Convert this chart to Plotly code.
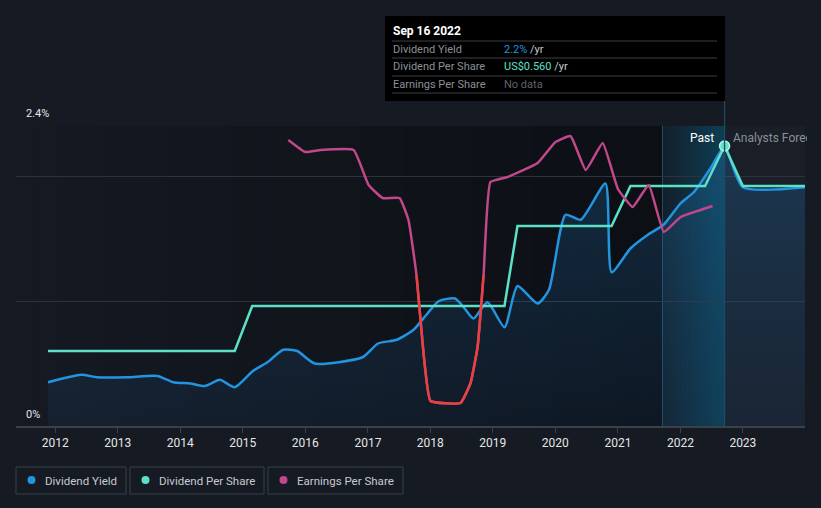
import plotly.graph_objects as go

# ---------------- data ----------------
yield_dates = ["2011-11-20", "2012-06-01", "2012-09-01", "2013-02-25", "2013-08-20", "2013-11-20",
               "2014-03-01", "2014-05-25", "2014-08-20", "2014-11-15", "2015-03-01", "2015-05-25",
               "2015-08-25", "2015-11-15", "2016-02-25", "2016-12-01", "2017-03-01", "2017-06-20",
               "2017-09-25", "2017-12-15", "2018-02-20", "2018-05-25", "2018-07-15", "2018-09-10",
               "2018-12-01", "2019-03-10", "2019-05-25", "2019-09-20", "2019-11-25", "2020-03-01",
               "2020-05-28", "2020-10-20", "2020-11-25", "2021-03-15", "2021-06-25", "2021-09-25",
               "2022-01-01", "2022-03-20", "2022-06-25", "2022-09-16", "2023-01-01", "2024-01-01"]
yield_pct = [0.35, 0.41, 0.39, 0.39, 0.40, 0.35,
             0.34, 0.32, 0.37, 0.31, 0.44, 0.51,
             0.61, 0.60, 0.50, 0.55, 0.66, 0.69,
             0.77, 0.90, 1.00, 1.02, 0.95, 0.86,
             0.99, 0.79, 1.12, 0.98, 1.09, 1.69,
             1.65, 1.94, 1.23, 1.42, 1.53, 1.61,
             1.78, 1.87, 2.06, 2.23, 1.91, 1.91]

dps_dates = ["2011-11-20", "2014-11-15", "2015-02-25", "2019-03-10", "2019-05-25", "2020-11-25",
             "2021-03-15", "2022-05-25", "2022-09-16", "2023-01-01", "2024-01-01"]
dps_usd = [0.15, 0.15, 0.24, 0.24, 0.40, 0.40, 0.48, 0.48, 0.56, 0.48, 0.48]

eps_dates = ["2015-09-24", "2016-01-01", "2016-03-30", "2016-10-10", "2017-01-05", "2017-03-28",
             "2017-07-05", "2017-08-26", "2017-10-12", "2017-11-22", "2018-01-02", "2018-06-26",
             "2018-08-24", "2018-10-04", "2018-11-08", "2018-12-18", "2019-03-28", "2019-09-20",
             "2020-01-02", "2020-03-30", "2020-06-27", "2020-10-04", "2021-01-01", "2021-03-28",
             "2021-06-30", "2021-09-26", "2022-01-03", "2022-07-08"]
eps_usd = [1.35, 1.23, 1.25, 1.25, 0.90, 0.77,
           0.77, 0.55, 0.00, -0.78, -1.26, -1.28,
           -1.08, -0.72, 0.00, 0.93, 0.98, 1.12,
           1.33, 1.39, 1.05, 1.32, 0.86, 0.68,
           0.90, 0.43, 0.58, 0.69]

y_ticks = [0, 1, 2, 2.4]
year_ticks = ["2012-01-01"]

# ---------------- colours ----------------
BG = "#151a23"
BLUE = "#2394df"
TEAL = "#5ce0c8"
PINK = "#c2478b"
RED = "#e8413e"
GRID = "#2d323b"
FONT = "Roboto"

fig = go.Figure()

fig.add_trace(go.Scatter(
    x=yield_dates, y=yield_pct, mode="lines", name="Dividend Yield",
    line=dict(color=BLUE, width=2.5, shape="spline", smoothing=0.6),
    fill="tozeroy",
    fillgradient=dict(type="vertical",
                      colorscale=[[0, "rgba(30,90,150,0.12)"], [1, "rgba(35,140,215,0.24)"]]),
    yaxis="y", hoverinfo="skip"))

fig.add_trace(go.Scatter(
    x=dps_dates, y=dps_usd, mode="lines", name="Dividend Per Share",
    line=dict(color=TEAL, width=2.5, shape="linear"),
    yaxis="y2", hoverinfo="skip"))

fig.add_trace(go.Scatter(
    x=eps_dates, y=eps_usd, mode="lines", name="Earnings Per Share",
    line=dict(color=PINK, width=2.5, shape="spline", smoothing=0.35),
    yaxis="y3", hoverinfo="skip"))

fig.add_trace(go.Scatter(
    x=eps_dates, y=eps_usd, mode="lines", name="Earnings Per Share (negative)",
    line=dict(color=RED, width=2.5, shape="spline", smoothing=0.35),
    yaxis="y4", hoverinfo="skip"))

fig.add_trace(go.Scatter(
    x=[dps_dates[8]], y=[dps_usd[8]], mode="markers",
    marker=dict(color=TEAL, size=10, line=dict(color="#b9f3e9", width=1.5)),
    yaxis="y2", hoverinfo="skip"))

shapes = []
# past region: horizontal darkening gradient
n = 30
x0p, x1p = 0.0, (662 - 16) / 789
for i in range(n):
    a = 0.42 * (i + 0.5) / n
    shapes.append(dict(type="rect", xref="paper", yref="paper",
                       x0=x0p + (x1p - x0p) * i / n, x1=x0p + (x1p - x0p) * (i + 1) / n,
                       y0=0, y1=1, fillcolor=f"rgba(0,0,0,{a:.3f})", line_width=0, layer="below"))
# last-year band gradient
m = 24
bx0, bx1 = (662 - 16) / 789, (725 - 16) / 789
for i in range(m):
    a = 0.05 + 0.28 * (i + 0.5) / m
    shapes.append(dict(type="rect", xref="paper", yref="paper",
                       x0=bx0 + (bx1 - bx0) * i / m, x1=bx0 + (bx1 - bx0) * (i + 1) / m,
                       y0=0, y1=1, fillcolor=f"rgba(0,140,190,{a:.3f})", line_width=0, layer="below"))
shapes.append(dict(type="rect", xref="paper", yref="paper", x0=bx0, x1=bx0 + 0.0013, y0=0, y1=1,
                   fillcolor="rgba(30,90,110,0.8)", line_width=0, layer="below"))
# forecast region
shapes.append(dict(type="rect", xref="paper", yref="paper", x0=bx1, x1=1, y0=0, y1=1,
                   fillcolor="rgba(255,255,255,0.018)", line_width=0, layer="below"))
# hover line
shapes.append(dict(type="line", xref="x", yref="paper", x0="2022-09-16", x1="2022-09-16",
                   y0=0, y1=(426 - 101) / 300, line=dict(color="#1d4d5e", width=1.2)))


def px_x(px):
    return (px - 16) / 789


def px_y(py):
    return (426 - py) / 300


# tooltip box
shapes.append(dict(type="rect", xref="paper", yref="paper", x0=px_x(385), x1=px_x(725),
                   y0=px_y(101), y1=px_y(16), fillcolor="#000000", line_width=0))
for sy in [41, 58, 76, 93]:
    shapes.append(dict(type="line", xref="paper", yref="paper", x0=px_x(392), x1=px_x(717),
                       y0=px_y(sy), y1=px_y(sy), line=dict(color="#3a3e46", width=1)))

# legend boxes
legend_items = [("Dividend Yield", BLUE, 16, 126), ("Dividend Per Share", TEAL, 130, 264),
                ("Earnings Per Share", PINK, 268, 403)]
annotations = []
for label, col, lx0, lx1 in legend_items:
    shapes.append(dict(type="rect", xref="paper", yref="paper", x0=px_x(lx0), x1=px_x(lx1),
                       y0=px_y(494), y1=px_y(467), fillcolor=BG,
                       line=dict(color="#3b4049", width=1)))
    shapes.append(dict(type="circle", xref="paper", yref="paper", x0=px_x(lx0 + 11.5), x1=px_x(lx0 + 19.5),
                       y0=px_y(484), y1=px_y(476), fillcolor=col, line_width=0))
    annotations.append(dict(xref="paper", yref="paper", x=px_x(lx0 + 27), y=px_y(480.5),
                            text=label, showarrow=False, xanchor="left", yanchor="middle",
                            font=dict(family=FONT, size=11.5, color="#c8cbd0")))

# y labels
annotations.append(dict(xref="paper", yref="paper", x=px_x(24), y=px_y(114), text="2.4%",
                        showarrow=False, xanchor="left", yanchor="middle",
                        font=dict(family=FONT, size=11, color="#e6e6e6")))
annotations.append(dict(xref="paper", yref="paper", x=px_x(24), y=px_y(414), text="0%",
                        showarrow=False, xanchor="left", yanchor="middle",
                        font=dict(family=FONT, size=11, color="#e6e6e6")))
# past / forecast
annotations.append(dict(xref="paper", yref="paper", x=px_x(716), y=px_y(138), text="Past",
                        showarrow=False, xanchor="right", yanchor="middle",
                        font=dict(family=FONT, size=12, color="#ffffff")))
annotations.append(dict(xref="paper", yref="paper", x=px_x(731), y=px_y(138), text="Analysts Forecasts",
                        showarrow=False, xanchor="left", yanchor="middle", width=74, align="left",
                        font=dict(family=FONT, size=12, color="#8b9098")))
# tooltip text
annotations.append(dict(xref="paper", yref="paper", x=px_x(391), y=px_y(31), text="<b>Sep 16 2022</b>",
                        showarrow=False, xanchor="left", yanchor="middle",
                        font=dict(family=FONT, size=12, color="#ffffff")))
rows = [("Dividend Yield", f"<span style='color:{BLUE}'>2.2%</span> /yr", 49),
        ("Dividend Per Share", f"<span style='color:{TEAL}'>US$0.560</span> /yr", 66),
        ("Earnings Per Share", "<span style='color:#5f646c'>No data</span>", 84)]
for lab, val, ry in rows:
    annotations.append(dict(xref="paper", yref="paper", x=px_x(391), y=px_y(ry), text=lab,
                            showarrow=False, xanchor="left", yanchor="middle",
                            font=dict(family=FONT, size=11, color="#8b9098")))
    annotations.append(dict(xref="paper", yref="paper", x=px_x(502), y=px_y(ry), text=val,
                            showarrow=False, xanchor="left", yanchor="middle",
                            font=dict(family=FONT, size=11, color="#c8cbd0")))

fig.update_layout(
    width=821, height=508,
    margin=dict(l=16, r=16, t=126, b=82),
    paper_bgcolor=BG, plot_bgcolor="rgba(0,0,0,0)",
    showlegend=False,
    font=dict(family=FONT),
    xaxis=dict(type="date", range=["2011-05-17", "2023-12-30"],
               tick0=year_ticks[0], dtick="M12", tickformat="%Y",
               showgrid=False, zeroline=False,
               showline=True, linecolor="#3b4049", linewidth=1.5,
               ticks="outside", ticklen=5, tickcolor="#3b4049",
               tickfont=dict(family=FONT, size=12, color="#e6e6e6")),
    yaxis=dict(range=[0, 2.4], tickvals=y_ticks, showticklabels=False,
               showgrid=True, gridcolor=GRID, gridwidth=1, zeroline=False, fixedrange=True),
    yaxis2=dict(range=[0, 0.6], overlaying="y", visible=False, showgrid=False),
    yaxis3=dict(range=[-1.51, 1.49], overlaying="y", visible=False, showgrid=False),
    yaxis4=dict(range=[-1.51, 0], domain=[0, 151 / 300], anchor="x", visible=False, showgrid=False),
    shapes=shapes,
    annotations=annotations,
)

fig.write_html("out.html", config={"displayModeBar": False},
               post_script="document.body.style.margin='0px';document.body.style.overflow='hidden';")
